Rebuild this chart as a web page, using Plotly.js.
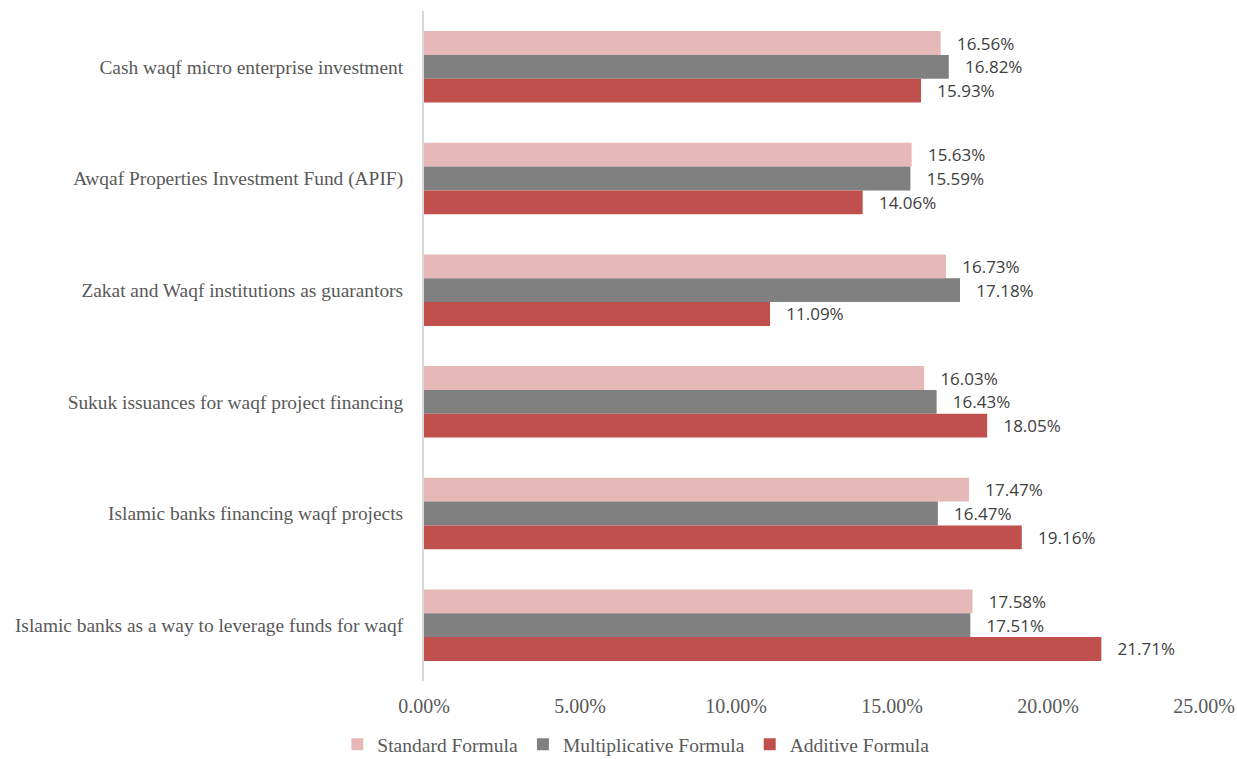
<!DOCTYPE html>
<html>
<head>
<meta charset="utf-8">
<script src="https://cdn.plot.ly/plotly-3.0.1.min.js"></script>
<style>html,body{margin:0;padding:0;background:#fff;}#chart{width:1237px;height:759px;}</style>
</head>
<body>
<div id="chart"></div>
<script>
var categories = [
  "Cash waqf micro enterprise investment",
  "Awqaf Properties Investment Fund (APIF)",
  "Zakat and Waqf institutions as guarantors",
  "Sukuk issuances for waqf project financing",
  "Islamic banks financing waqf projects",
  "Islamic banks as a way to leverage funds for waqf"
];
var seriesNames = ["Standard Formula", "Multiplicative Formula", "Additive Formula"];
var standardFormula = [0.1656, 0.1563, 0.1673, 0.1603, 0.1747, 0.1758];
var multiplicativeFormula = [0.1682, 0.1559, 0.1718, 0.1643, 0.1647, 0.1751];
var additiveFormula = [0.1593, 0.1406, 0.1109, 0.1805, 0.1916, 0.2171];
var tickValues = [0, 0.05, 0.10, 0.15, 0.20, 0.25];
var tickLabels = ["0.00%", "5.00%", "10.00%", "15.00%", "20.00%", "25.00%"];

var colors = ["#E6B9B8", "#808080", "#C0504D"];
var seriesValues = [standardFormula, multiplicativeFormula, additiveFormula];
var serif = "Liberation Serif, Times New Roman, serif";

var traces = seriesValues.map(function (vals, i) {
  return {
    type: "bar",
    orientation: "h",
    name: seriesNames[i],
    y: categories,
    x: vals,
    marker: {color: colors[i]},
    texttemplate: "\u00a0\u00a0\u00a0%{x:.2%}",
    textposition: "outside",
    cliponaxis: false,
    textfont: {family: "Open Sans, sans-serif", size: 17, color: "#404040"},
    hoverinfo: "skip"
  };
});

var layout = {
  width: 1237,
  height: 759,
  margin: {l: 424, r: 33, t: 11, b: 78},
  paper_bgcolor: "#ffffff",
  plot_bgcolor: "#ffffff",
  barmode: "group",
  bargap: 0.36,
  bargroupgap: 0,
  showlegend: true,
  legend: {
    orientation: "h",
    xref: "container",
    yref: "container",
    x: 0.514,
    xanchor: "center",
    y: 0.019,
    yanchor: "middle",
    itemwidth: 30,
    font: {family: serif, size: 19.5, color: "#595959"},
    traceorder: "normal"
  },
  xaxis: {
    range: [0, 0.25],
    tickvals: tickValues,
    ticktext: tickLabels,
    showgrid: false,
    zeroline: false,
    showline: false,
    ticks: "",
    ticklabelstandoff: 11,
    tickfont: {family: serif, size: 20, color: "#595959"}
  },
  yaxis: {
    autorange: "reversed",
    showgrid: false,
    zeroline: false,
    showline: true,
    linecolor: "#D9D9D9",
    linewidth: 2,
    ticks: "",
    ticklabelstandoff: 15,
    tickfont: {family: serif, size: 19.4, color: "#595959"}
  }
};

Plotly.newPlot("chart", traces, layout, {displayModeBar: false, staticPlot: true});
</script>
</body>
</html>
